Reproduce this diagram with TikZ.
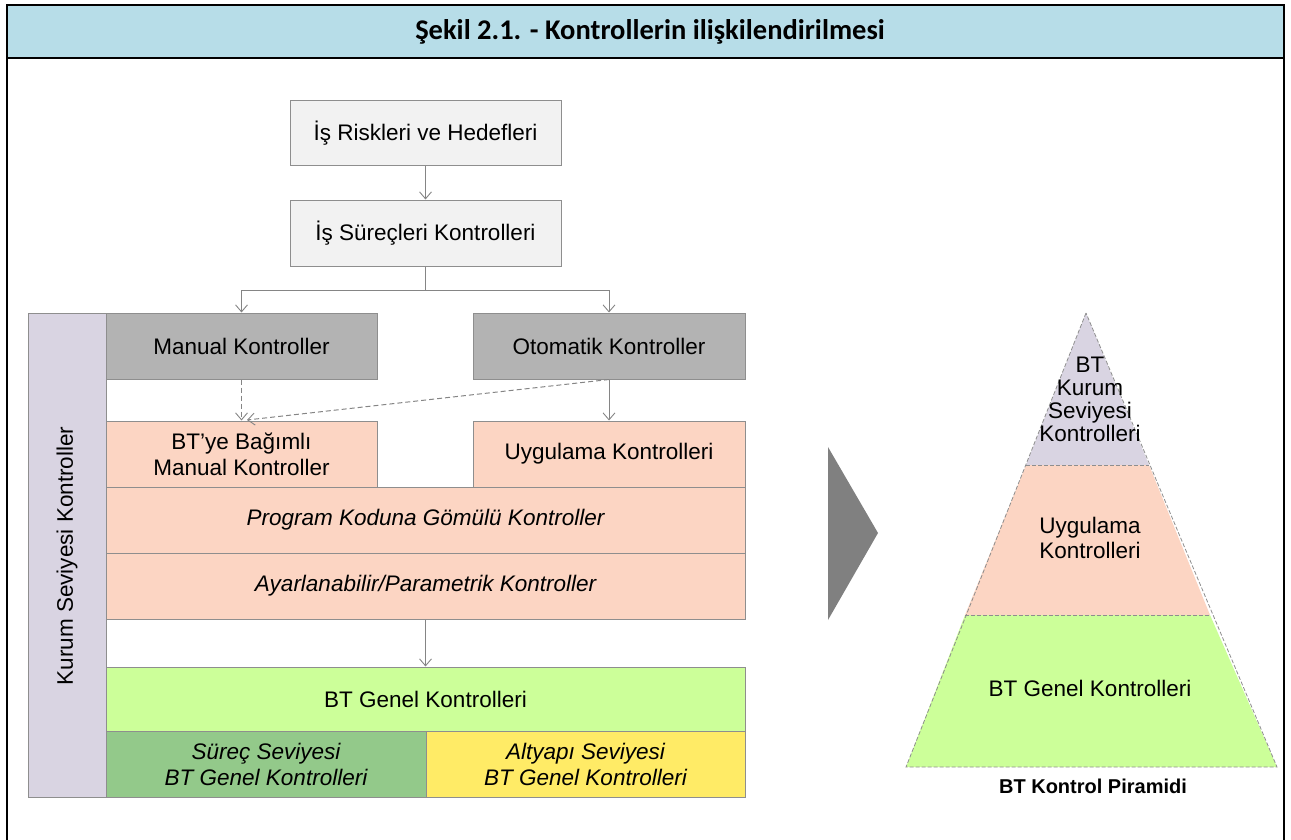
\documentclass[tikz,border=0pt]{standalone}
\usepackage{fontspec}
\setmainfont{Liberation Sans}
\newfontfamily\hdrfont{Carlito}
\usetikzlibrary{arrows.meta}
\definecolor{hdr}{HTML}{B7DDE8}
\definecolor{lightbox}{HTML}{F2F2F2}
\definecolor{graybox}{HTML}{B3B3B3}
\definecolor{peach}{HTML}{FCD5C3}
\definecolor{lav}{HTML}{D9D4E2}
\definecolor{lgreen}{HTML}{CCFF99}
\definecolor{mgreen}{HTML}{93C98A}
\definecolor{yel}{HTML}{FFEB66}
\definecolor{bord}{HTML}{8E8E8E}
\definecolor{arr}{HTML}{858585}
\definecolor{chev}{HTML}{808080}
\begin{document}
\begin{tikzpicture}[x=1pt,y=-1pt,
  box/.style={draw=bord, line width=1pt, inner sep=2pt, align=center, font=\fontsize{22.5}{26}\selectfont},
  ibox/.style={box, font=\fontsize{22.5}{26}\selectfont\itshape},
  conn/.style={draw=arr, line width=1pt, -{Straight Barb[length=7pt,width=12pt,line width=0.9pt]}},
  dconn/.style={conn, dashed, dash pattern=on 5pt off 3pt},
  pyr/.style={draw=bord, line width=0.8pt, dash pattern=on 4pt off 2pt},
  ptext/.style={align=center, font=\fontsize{22.5}{23}\selectfont, inner sep=0pt}]
\useasboundingbox (0,0) rectangle (1291,840);
% header and frame
\fill[hdr] (7,5) rectangle (1284,58);
\draw[line width=1.5pt] (7,842) -- (7,5) -- (1284,5) -- (1284,842);
\draw[line width=1.5pt] (7,58) -- (1284,58);
\node[font=\hdrfont\bfseries\fontsize{28.5}{32}\selectfont] (title) at (650,32) {Şekil 2.1. - Kontrollerin ilişkilendirilmesi};
% boxes
\node[box, fill=lightbox, minimum width=271pt, minimum height=65pt] (r1) at (425.5,133.5) {İş Riskleri ve Hedefleri};
\node[box, fill=lightbox, minimum width=271pt, minimum height=66pt] (r2) at (425.5,233) {İş Süreçleri Kontrolleri};
\node[box, fill=lav, minimum width=78pt, minimum height=484pt] (kurum) at (67,555) {};
\node[font=\fontsize{22.5}{26}\selectfont, rotate=90] (kurumt) at (67,556) {Kurum Seviyesi Kontroller};
\node[box, fill=graybox, minimum width=271pt, minimum height=66pt] (man) at (241.5,346) {Manual Kontroller};
\node[box, fill=graybox, minimum width=272pt, minimum height=66pt] (oto) at (609,346) {Otomatik Kontroller};
\node[box, fill=peach, minimum width=271pt, minimum height=66pt] (btm) at (241.5,454) {BT’ye Bağımlı\\Manual Kontroller};
\node[box, fill=peach, minimum width=272pt, minimum height=66pt] (uyg) at (609,454) {Uygulama Kontrolleri};
\node[ibox, fill=peach, minimum width=639pt, minimum height=66pt] (prog) at (425.5,520) {Program Koduna Gömülü Kontroller};
\node[ibox, fill=peach, minimum width=639pt, minimum height=66pt] (ayar) at (425.5,586) {Ayarlanabilir/Parametrik Kontroller};
\node[box, fill=lgreen, minimum width=639pt, minimum height=64pt] (gen) at (425.5,699) {BT Genel Kontrolleri};
\node[ibox, fill=mgreen, minimum width=320pt, minimum height=66pt] (surec) at (266,764) {Süreç Seviyesi\\BT Genel Kontrolleri};
\node[ibox, fill=yel, minimum width=319pt, minimum height=66pt] (alt) at (585.5,764) {Altyapı Seviyesi\\BT Genel Kontrolleri};
% connectors
\coordinate (split) at (425.5,290);
\coordinate (sl) at (241.5,290);
\coordinate (sr) at (609,290);
\coordinate (dend) at (247,420);
\draw[conn] (r1) -- (r2);
\draw[draw=arr, line width=1pt] (r2.south) -- (split);
\draw[draw=arr, line width=1pt] (sl) -- (sr);
\draw[conn] (sl) -- (man.north);
\draw[conn] (sr) -- (oto.north);
\draw[dconn] (man.south) -- (btm.north);
\draw[dconn] (oto.south) -- (dend);
\draw[conn] (oto.south) -- (uyg.north);
\draw[conn] (ayar.south) -- (gen.north);
% chevron
\fill[chev] (828,447) -- (878,533) -- (828,620) -- cycle;
% pyramid
\coordinate (apex) at (1086,313);
\coordinate (bl) at (906,767);
\coordinate (br) at (1277,767);
\fill[lav] (apex) -- (1026,465) -- (1149,465) -- cycle;
\fill[peach] (1026,465) -- (965,615) -- (1210,615) -- (1149,465) -- cycle;
\fill[lgreen] (965,615) -- (bl) -- (br) -- (1210,615) -- cycle;
\draw[pyr] (apex) -- (bl) -- (br) -- cycle;
\draw[pyr] (1026,465) -- (1149,465);
\draw[pyr] (965,615) -- (1210,615);
\node[ptext] (p1) at (1090,399) {BT\\Kurum\\Seviyesi\\Kontrolleri};
\node[ptext, font=\fontsize{22.5}{25}\selectfont] (p2) at (1090,538) {Uygulama\\Kontrolleri};
\node[ptext] (p3) at (1090,688) {BT Genel Kontrolleri};
\node[font=\bfseries\fontsize{20}{24}\selectfont] (ptitle) at (1093,786) {BT Kontrol Piramidi};
\end{tikzpicture}
\end{document}
